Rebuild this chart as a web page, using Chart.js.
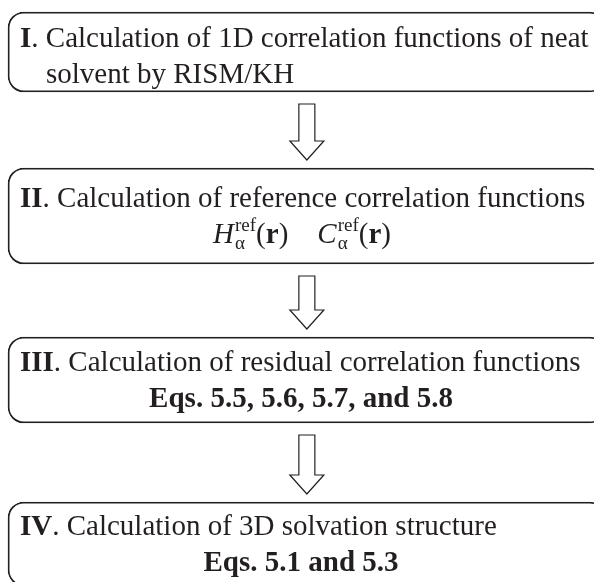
<!DOCTYPE html>
<html>
<head>
<meta charset="utf-8">
<script src="https://cdn.jsdelivr.net/npm/chart.js@4/dist/chart.umd.min.js"></script>
<style>
  html, body { margin: 0; padding: 0; background: #fff; }
  canvas { display: block; }
</style>
</head>
<body>
<canvas id="flow" width="594" height="582"></canvas>
<script>
// the four stages of the workflow, top to bottom
var steps = ['I', 'II', 'III', 'IV'];
var titles = [
  '. Calculation of 1D correlation functions of neat',
  '. Calculation of reference correlation functions',
  '. Calculation of residual correlation functions',
  '. Calculation of 3D solvation structure'
];
// second line of each box, as text runs (i = italic, b = bold, sub/sup = indices)
var details = [
  [{ t: 'solvent by RISM/KH' }],
  [{ t: 'H', i: 1 }, { sub: '\u03B1', sup: 'ref' }, { t: '(' }, { t: 'r', b: 1 }, { t: ')' }, { t: '    ' },
   { t: 'C', i: 1 }, { sub: '\u03B1', sup: 'ref' }, { t: '(' }, { t: 'r', b: 1 }, { t: ')' }],
  [{ t: 'Eqs. 5.5, 5.6, 5.7, and 5.8', b: 1 }],
  [{ t: 'Eqs. 5.1 and 5.3', b: 1 }]
];
// every stage box runs across the whole page
var spans = [[0, 1.02], [0, 1.02], [0, 1.02], [0, 1.02]];

var ink = '#231f20';
var boxH = [80, 96, 86, 84];
var textShift = [4, 0, 0, 0];
var fontSize = 29;
var idxSize = 19;

function font(size, bold, italic) {
  return (italic ? 'italic ' : '') + (bold ? 'bold ' : '') + size + 'px "Liberation Serif", "Times New Roman", serif';
}

function runsWidth(ctx, runs) {
  var w = 0;
  runs.forEach(function (r) {
    if (r.sub) {
      ctx.font = font(idxSize);
      w += Math.max(ctx.measureText(r.sub).width, ctx.measureText(r.sup).width);
    } else {
      ctx.font = font(fontSize, r.b, r.i);
      w += ctx.measureText(r.t).width;
    }
  });
  return w;
}

function drawRuns(ctx, runs, x, y) {
  runs.forEach(function (r) {
    if (r.sub) {
      ctx.font = font(idxSize);
      ctx.fillText(r.sub, x + 1, y + 6);
      ctx.fillText(r.sup, x + 1, y - 12);
      x += Math.max(ctx.measureText(r.sub).width, ctx.measureText(r.sup).width) + 1;
    } else {
      ctx.font = font(fontSize, r.b, r.i);
      ctx.fillText(r.t, x, y);
      x += ctx.measureText(r.t).width;
    }
  });
}

function drawArrow(ctx, cx, y0, y1) {
  var shaftW = 8, headW = 17, headL = 19;
  ctx.beginPath();
  ctx.moveTo(cx - shaftW, y0);
  ctx.lineTo(cx + shaftW, y0);
  ctx.lineTo(cx + shaftW, y1 - headL);
  ctx.lineTo(cx + headW, y1 - headL);
  ctx.lineTo(cx, y1);
  ctx.lineTo(cx - headW, y1 - headL);
  ctx.lineTo(cx - shaftW, y1 - headL);
  ctx.closePath();
  ctx.fillStyle = '#fff';
  ctx.fill();
  ctx.lineWidth = 1.2;
  ctx.strokeStyle = ink;
  ctx.stroke();
}

var flowText = {
  id: 'flowText',
  afterDatasetsDraw: function (chart) {
    var ctx = chart.ctx;
    var xs = chart.scales.x;
    var boxes = steps.map(function (s, i) { return chart.getDatasetMeta(i).data[i]; });
    ctx.save();
    ctx.textBaseline = 'alphabetic';
    boxes.forEach(function (b, i) {
      var left = b.base, y1 = b.y - 9 + textShift[i], y2 = b.y + 27 + textShift[i];
      ctx.fillStyle = ink;
      ctx.font = font(fontSize, true);
      ctx.fillText(steps[i], left + 12, y1);
      var nw = ctx.measureText(steps[i]).width;
      ctx.font = font(fontSize);
      ctx.fillText(titles[i], left + 12 + nw, y1);
      var w = runsWidth(ctx, details[i]);
      var x2 = i === 0 ? left + 38 : xs.getPixelForValue(0.5) - w / 2;
      drawRuns(ctx, details[i], x2, y2);
      if (i < boxes.length - 1) {
        var nb = boxes[i + 1];
        drawArrow(ctx, xs.getPixelForValue(0.51), b.y + b.height / 2 + 12, nb.y - nb.height / 2 - 8);
      }
    });
    ctx.restore();
  }
};

new Chart(document.getElementById('flow'), {
  type: 'bar',
  data: {
    labels: steps,
    datasets: steps.map(function (s, i) {
      return {
        label: s,
        data: steps.map(function (x, j) { return j === i ? spans[i] : null; }),
        grouped: false,
        barThickness: boxH[i],
        backgroundColor: '#fff',
        borderColor: ink,
        borderWidth: 1.8,
        borderRadius: 16,
        borderSkipped: false,
        clip: false
      };
    })
  },
  options: {
    indexAxis: 'y',
    responsive: false,
    animation: false,
    layout: { padding: { left: 8, right: 0, top: 52, bottom: 38 } },
    plugins: { legend: { display: false }, tooltip: { enabled: false } },
    scales: {
      x: { type: 'linear', min: 0, max: 1, display: false },
      y: { type: 'category', offset: false, display: false }
    }
  },
  plugins: [flowText]
});
</script>
</body>
</html>
